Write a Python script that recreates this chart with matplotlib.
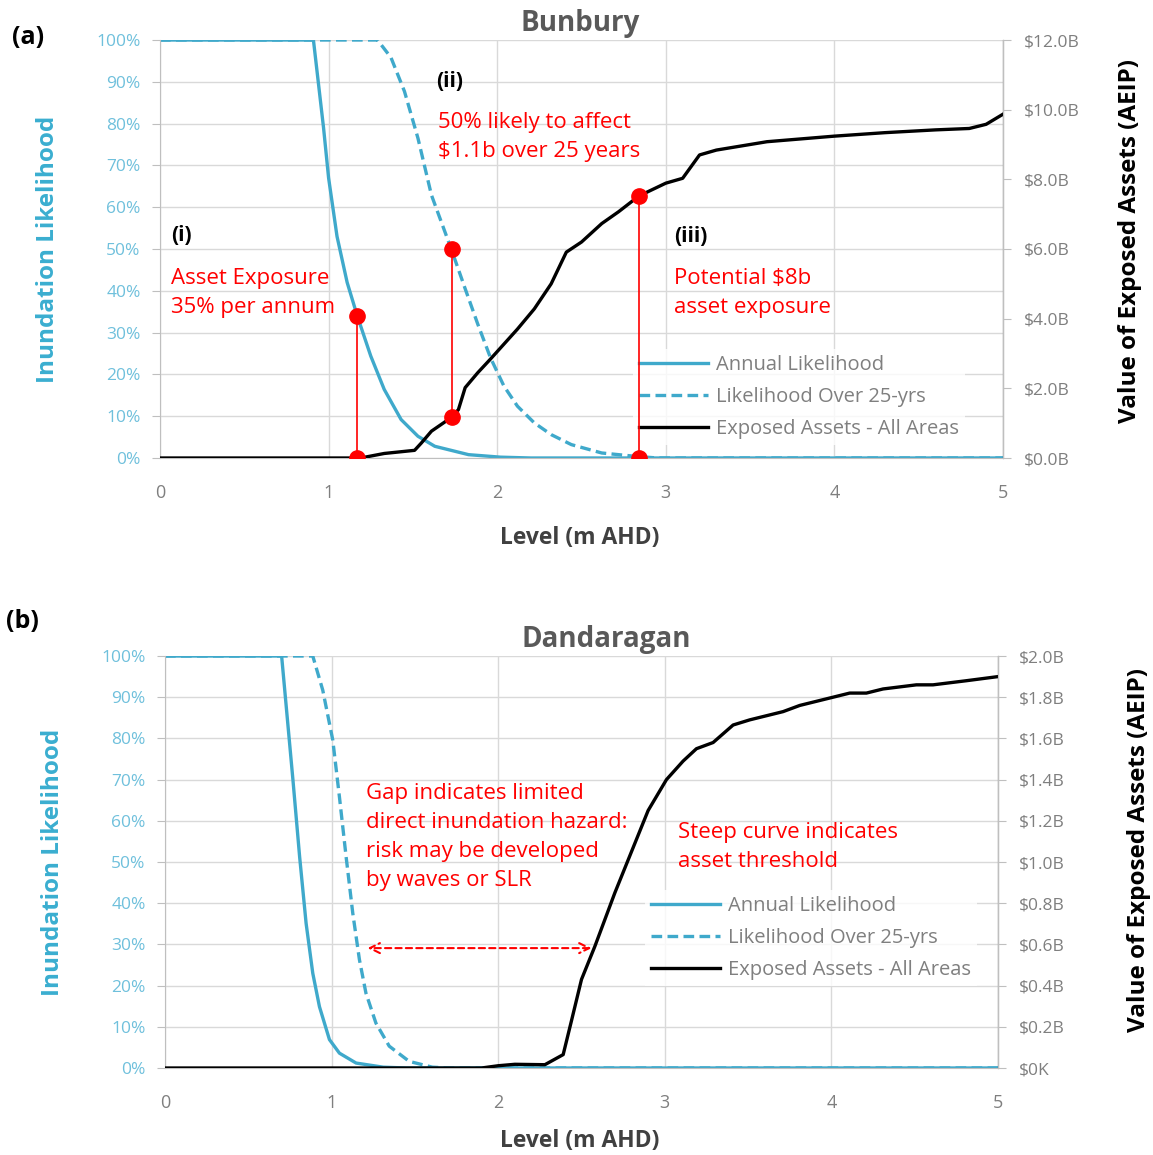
import matplotlib
matplotlib.use("Agg")
import matplotlib.pyplot as plt

# ---------------- data ----------------
# Panel (a) Bunbury
a_level_annual = [0, 0.91, 0.97, 1.0, 1.05, 1.11, 1.17, 1.25, 1.33, 1.43, 1.53, 1.63, 1.83, 2.02, 2.2, 5.0]
a_annual = [100, 100, 79, 67, 53, 42, 34, 24.4, 16.4, 9.2, 5.2, 2.8, 0.8, 0.2, 0, 0]

a_level_25 = [0, 1.29, 1.37, 1.45, 1.53, 1.61, 1.73, 1.81, 1.885, 1.96, 2.04, 2.12, 2.22, 2.32, 2.44, 2.62, 2.82, 2.95, 5.0]
a_25 = [100, 100, 95.8, 87.7, 76.5, 62.9, 49.7, 40.5, 32.0, 24.0, 17.2, 12.4, 8.4, 5.6, 3.2, 1.2, 0.4, 0, 0]

a_level_assets = [0, 1.19, 1.33, 1.51, 1.55, 1.61, 1.73, 1.77, 1.81, 1.885, 1.96, 2.04, 2.12, 2.22,
                  2.32, 2.41, 2.5, 2.62, 2.72, 2.84, 3.0, 3.1, 3.2, 3.3, 3.6, 4.0, 4.3, 4.6, 4.8, 4.9, 5.0]
a_assets = [0, 0, 0.13, 0.22, 0.43, 0.77, 1.17, 1.39, 2.02, 2.45, 2.84, 3.27, 3.70, 4.28,
            5.0, 5.91, 6.2, 6.73, 7.07, 7.52, 7.89, 8.03, 8.70, 8.84, 9.08, 9.24, 9.34, 9.42, 9.46, 9.58, 9.87]

# red marker points in panel (a): level, likelihood (%) / asset value ($B)
a_mark_levels = [1.17, 1.73, 2.84]
a_mark_pct = [34, 50, 0]
a_mark_assets = [0.0, 1.17, 7.52]

# Panel (b) Dandaragan
b_level_annual = [0, 0.70, 0.728, 0.768, 0.808, 0.847, 0.887, 0.927, 0.987, 1.047, 1.147, 1.31, 1.45, 5.0]
b_annual = [100, 100, 87.6, 69.9, 51.3, 35.1, 23, 14.9, 6.9, 3.6, 1.2, 0.2, 0, 0]

b_level_25 = [0, 0.887, 0.947, 1.007, 1.047, 1.087, 1.127, 1.167, 1.206, 1.266, 1.346, 1.466, 1.605, 1.7, 5.0]
b_25 = [100, 100, 91.7, 79.6, 65.8, 51.3, 37.6, 26.3, 18.2, 10.9, 5.3, 1.6, 0.2, 0, 0]

b_level_assets = [0, 1.9, 2.0, 2.1, 2.28, 2.39, 2.44, 2.50, 2.58, 2.70, 2.81, 2.90, 3.01, 3.11, 3.19,
                  3.29, 3.41, 3.51, 3.71, 3.81, 4.01, 4.11, 4.21, 4.31, 4.51, 4.61, 4.81, 5.0]
b_assets = [0, 0, 0.011, 0.018, 0.016, 0.065, 0.23, 0.43, 0.59, 0.85, 1.07, 1.25, 1.40, 1.49, 1.55,
            1.58, 1.665, 1.69, 1.73, 1.76, 1.80, 1.82, 1.82, 1.84, 1.86, 1.86, 1.88, 1.90]

# gap arrow in panel (b): from level, to level, at likelihood %
b_gap = [1.216, 2.56, 29.1]

x_ticks = [0, 1, 2, 3, 4, 5]
pct_ticks = [0, 10, 20, 30, 40, 50, 60, 70, 80, 90, 100]
pct_labels = [f"{v}%" for v in pct_ticks]
a_val_ticks = [0, 2, 4, 6, 8, 10, 12]
a_val_labels = ["$0.0B", "$2.0B", "$4.0B", "$6.0B", "$8.0B", "$10.0B", "$12.0B"]
b_val_ticks = [0, 0.2, 0.4, 0.6, 0.8, 1.0, 1.2, 1.4, 1.6, 1.8, 2.0]
b_val_labels = ["$0K", "$0.2B", "$0.4B", "$0.6B", "$0.8B", "$1.0B", "$1.2B", "$1.4B", "$1.6B", "$1.8B", "$2.0B"]

series_labels = ["Annual Likelihood", "Likelihood Over 25-yrs", "Exposed Assets - All Areas"]

# ---------------- style ----------------
plt.rcParams['font.family'] = ['Open Sans', 'DejaVu Sans']
BLUE = '#3FA9CB'
TICKBLUE = '#6FC0DC'
LABELBLUE = '#3AAED0'
GRAY = '#7F7F7F'
GRID = '#D9D9D9'
RED = '#FF0000'
TITLEGRAY = '#595959'

fig = plt.figure(figsize=(11.53, 11.55), dpi=100)
W, H = 1153, 1155


def make_panel(rect, title, title_x, lv_ann, ann, lv_25, l25, lv_as, assets, vmax, vticks, vlabels, legend_xy):
    ax = fig.add_axes(rect)
    ax2 = ax.twinx()
    ax.set_xlim(0, 5)
    ax.set_ylim(0, 100)
    ax2.set_ylim(0, vmax)
    ax.set_xticks(x_ticks)
    ax.set_yticks(pct_ticks)
    ax.set_yticklabels(pct_labels)
    ax2.set_yticks(vticks)
    ax2.set_yticklabels(vlabels)
    ax.grid(True, color=GRID, lw=1.0)
    ax.set_axisbelow(True)
    ax.spines['top'].set_visible(False)
    ax2.spines['top'].set_visible(False)
    ax.spines['left'].set_color('#BFBFBF')
    ax.spines['bottom'].set_color('#BFBFBF')
    ax2.spines['right'].set_color('#BFBFBF')
    ax2.spines['left'].set_visible(False)
    ax2.spines['bottom'].set_visible(False)
    ax.tick_params(axis='y', colors='#BFBFBF', labelcolor=TICKBLUE, labelsize=12.5, length=6, pad=8)
    ax.tick_params(axis='x', colors='#BFBFBF', labelcolor=GRAY, labelsize=13, length=0, pad=19)
    ax2.tick_params(axis='y', colors='#BFBFBF', labelcolor=GRAY, labelsize=12.5, length=6, pad=9)

    l1, = ax.plot(lv_ann, ann, color=BLUE, lw=2.4, solid_joinstyle='round')
    l2, = ax.plot(lv_25, l25, color=BLUE, lw=2.4, ls=(0, (3.2, 1.6)))
    l3, = ax2.plot(lv_as, assets, color='black', lw=2.4, solid_joinstyle='round')

    ax.set_ylabel("Inundation Likelihood", color=LABELBLUE, fontsize=17.5, fontweight='bold')
    ax2.set_ylabel("Value of Exposed Assets (AEIP)", color='black', fontsize=17.5, fontweight='bold')
    ax.set_xlabel("Level (m AHD)", color='#404040', fontsize=16.5, fontweight='bold')
    ax.text(title_x, 1.04, title, transform=ax.transAxes, ha='center', va='center',
            fontsize=20, fontweight='bold', color=TITLEGRAY)

    leg = ax2.legend([l1, l2, l3], series_labels, loc='upper left',
                     bbox_to_anchor=(legend_xy[0] / W, 1 - legend_xy[1] / H),
                     bbox_transform=fig.transFigure, frameon=True, fontsize=14.5,
                     handlelength=3.4, handletextpad=0.4, labelspacing=0.6,
                     borderpad=0.3, borderaxespad=0, fancybox=False)
    leg.get_frame().set_facecolor('white')
    leg.get_frame().set_edgecolor('none')
    for t in leg.get_texts():
        t.set_color(GRAY)
    leg.set_zorder(5)
    return ax, ax2


# Panel (a)
axA, axA2 = make_panel([160 / W, 1 - 458 / H, 843 / W, 418 / H], "Bunbury", 0.498,
                       a_level_annual, a_annual, a_level_25, a_25, a_level_assets, a_assets,
                       12, a_val_ticks, a_val_labels, (633, 349))
axA.yaxis.set_label_coords(-0.119, 0.5)
axA2.yaxis.set_label_coords(1.137, 0.52)
axA.xaxis.set_label_coords(0.498, -0.162)

# red markers (a): convert % to $B on the right axis scale
scale = 12 / 100.0
# (i)
axA2.plot([a_mark_levels[0]] * 2, [0, a_mark_pct[0] * scale], color=RED, lw=1.2, zorder=6)
axA2.plot([a_mark_levels[0]] * 2, [0, a_mark_pct[0] * scale], 'o', color=RED, ms=11, zorder=7)
# (ii)
axA2.plot([a_mark_levels[1]] * 2, [a_mark_assets[1], a_mark_pct[1] * scale], color=RED, lw=1.2, zorder=6)
axA2.plot([a_mark_levels[1]] * 2, [a_mark_assets[1], a_mark_pct[1] * scale], 'o', color=RED, ms=11, zorder=7)
# (iii)
axA2.plot([a_mark_levels[2]] * 2, [0, a_mark_assets[2]], color=RED, lw=1.2, zorder=6)
axA2.plot([a_mark_levels[2]] * 2, [0, a_mark_assets[2]], 'o', color=RED, ms=11, zorder=7)

txt_kw = dict(color=RED, fontsize=16, linespacing=1.5, va='center', ha='left', zorder=8)
lab_kw = dict(color='black', fontsize=15, fontweight='bold', va='center', ha='left', zorder=8)
axA.text(0.065, 53.3, "(i)", **lab_kw)
axA.text(0.065, 39.5, "Asset Exposure\n35% per annum", **txt_kw)
axA.text(1.64, 90, "(ii)", **lab_kw)
axA.text(1.65, 76.8, "50% likely to affect\n$1.1b over 25 years", **txt_kw)
axA.text(3.05, 52.9, "(iii)", **lab_kw)
axA.text(3.05, 39.5, "Potential $8b\nasset exposure", **txt_kw)

# Panel (b)
axB, axB2 = make_panel([165 / W, 1 - 1068 / H, 833 / W, 412 / H], "Dandaragan", 0.53,
                       b_level_annual, b_annual, b_level_25, b_25, b_level_assets, b_assets,
                       2.0, b_val_ticks, b_val_labels, (645, 890))
axB.yaxis.set_label_coords(-0.12, 0.5)
axB2.yaxis.set_label_coords(1.155, 0.53)
axB.xaxis.set_label_coords(0.498, -0.148)

axB.text(1.206, 56.1, "Gap indicates limited\ndirect inundation hazard:\nrisk may be developed\nby waves or SLR", **txt_kw)
axB.text(3.08, 53.6, "Steep curve indicates\nasset threshold", **txt_kw)
axB.annotate("", xy=(b_gap[0], b_gap[2]), xytext=(b_gap[1], b_gap[2]),
             arrowprops=dict(arrowstyle='<->', color=RED, lw=1.5, ls=(0, (3, 2)),
                             mutation_scale=18, shrinkA=0, shrinkB=0), zorder=8)

fig.text(28 / W, 1 - 38 / H, "(a)", fontsize=18, fontweight='bold', ha='center', va='center')
fig.text(22 / W, 1 - 622 / H, "(b)", fontsize=18, fontweight='bold', ha='center', va='center')

fig.savefig("out.png", dpi=100, facecolor='white')
